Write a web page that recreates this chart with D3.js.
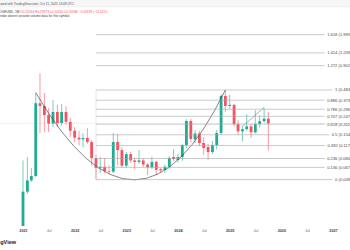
<!DOCTYPE html>
<html>
<head>
<meta charset="utf-8">
<script src="https://cdn.jsdelivr.net/npm/d3@7"></script>
<style>
  body { margin: 0; background: #fff; }
  svg { display: block; font-family: "Liberation Sans", Arial, sans-serif; }
</style>
</head>
<body>
<div id="chart"></div>
<script>
// monthly candles, DOGE-like log chart
const months = [
  "2021-01","2021-02","2021-03","2021-04","2021-05","2021-06","2021-07","2021-08","2021-09","2021-10","2021-11","2021-12",
  "2022-01","2022-02","2022-03","2022-04","2022-05","2022-06","2022-07","2022-08","2022-09","2022-10","2022-11","2022-12",
  "2023-01","2023-02","2023-03","2023-04","2023-05","2023-06","2023-07","2023-08","2023-09","2023-10","2023-11","2023-12",
  "2024-01","2024-02","2024-03","2024-04","2024-05","2024-06","2024-07","2024-08","2024-09","2024-10","2024-11","2024-12",
  "2025-01","2025-02","2025-03","2025-04","2025-05","2025-06","2025-07","2025-08","2025-09","2025-10"
];
const opens = [
  0.0047, 0.0360, 0.0480, 0.0537, 0.345, 0.322, 0.255, 0.205, 0.276, 0.208, 0.276, 0.214,
  0.171, 0.143, 0.137, 0.142, 0.128, 0.085, 0.066, 0.068, 0.061, 0.060, 0.128, 0.104,
  0.070, 0.094, 0.080, 0.077, 0.080, 0.072, 0.067, 0.077, 0.064, 0.0626, 0.068, 0.0873,
  0.0809, 0.0873, 0.1186, 0.2191, 0.1370, 0.1590, 0.1249, 0.1127, 0.0992, 0.1186, 0.1613, 0.4152,
  0.3216, 0.3310, 0.2030, 0.1680, 0.1780, 0.1910, 0.1640, 0.2030, 0.2180, 0.2326
];
const highs = [
  0.080, 0.087, 0.066, 0.448, 0.740, 0.448, 0.305, 0.375, 0.330, 0.338, 0.321, 0.237,
  0.188, 0.170, 0.161, 0.183, 0.135, 0.092, 0.087, 0.085, 0.071, 0.161, 0.158, 0.112,
  0.099, 0.100, 0.086, 0.104, 0.083, 0.075, 0.088, 0.080, 0.066, 0.072, 0.0895, 0.107,
  0.0942, 0.1217, 0.229, 0.2307, 0.1741, 0.1697, 0.1450, 0.1217, 0.1314, 0.1741, 0.4370, 0.4840,
  0.4300, 0.3360, 0.2240, 0.1930, 0.2600, 0.2030, 0.2880, 0.2540, 0.3070, 0.2767
];
const lows = [
  0.0045, 0.0340, 0.0460, 0.0524, 0.161, 0.165, 0.165, 0.188, 0.188, 0.192, 0.198, 0.146,
  0.128, 0.118, 0.112, 0.122, 0.070, 0.0495, 0.058, 0.058, 0.057, 0.058, 0.070, 0.066,
  0.066, 0.075, 0.064, 0.073, 0.068, 0.055, 0.064, 0.055, 0.058, 0.058, 0.064, 0.079,
  0.076, 0.079, 0.1099, 0.1281, 0.1249, 0.1156, 0.0919, 0.0809, 0.0942, 0.1060, 0.1532, 0.2758,
  0.2990, 0.1910, 0.1530, 0.1300, 0.1700, 0.1420, 0.1590, 0.1860, 0.2100, 0.1025
];
const closes = [
  0.0360, 0.0480, 0.0537, 0.345, 0.322, 0.255, 0.205, 0.276, 0.208, 0.276, 0.214, 0.171,
  0.143, 0.137, 0.142, 0.128, 0.085, 0.066, 0.068, 0.061, 0.060, 0.128, 0.104, 0.070,
  0.094, 0.080, 0.077, 0.080, 0.072, 0.067, 0.077, 0.063, 0.062, 0.068, 0.0851, 0.0829,
  0.0873, 0.1186, 0.2191, 0.1383, 0.1590, 0.1249, 0.1100, 0.0992, 0.1186, 0.1613, 0.4152, 0.3216,
  0.3310, 0.2030, 0.1680, 0.1780, 0.1910, 0.1640, 0.2030, 0.2180, 0.2326, 0.2058
];

const tickLabels = ["2021","Jul","2022","Jul","2023","Jul","2024","Jul","2025","Jul","2026","Jul","2027"];

const fibRatios = ["1.618","1.414","1.272","1","0.886","0.786","0.707","0.618","0.5","0.382","0.236","0.136","0"];
const fibPrices = [1.993, 1.249, 0.902, 0.484, 0.373, 0.296, 0.247, 0.202, 0.154, 0.117, 0.084, 0.067, 0.049];
const fibAnchorMonth = "2022-06";

// cup arc: start, bottom, end (month, price)
const cupPoints = [["2021-04", 0.452], ["2023-03", 0.0487], ["2024-12", 0.484]];
const trendPoints = [["2025-04", 0.190], ["2025-09", 0.310]];
const lastPrice = 0.2058;

const headerLine1 = "Created with TradingView.com, Oct 11, 2025 14:08 UTC";
const symbolText = "DOGEUSD, 1M";
const ohlcText = "O0.23264 H0.27673 L0.10250 C0.20586 \u22120.02678 (\u221211.51%)";
const volumeNote = "Vendor doesn't provide volume data for this symbol.";

const width = 350, height = 250;
const paneTop = 7, paneBottom = 226;
const upColor = "#22ab94", downColor = "#f7525f";

const parseMonth = d3.utcParse("%Y-%m");

const svg = d3.select("#chart").append("svg")
    .attr("width", width)
    .attr("height", height);

const x = d3.scaleUtc()
    .domain([new Date(Date.UTC(2021, 0, 1)), new Date(Date.UTC(2027, 0, 1))])
    .range([23, 333]);

const y = d3.scaleLog()
    .domain([0.01497, 2.751])
    .range([226, 22]);

// header bar
svg.append("rect").attr("x", 0).attr("y", 0).attr("width", width).attr("height", 7).attr("fill", "#f6f6f6");
svg.append("line").attr("x1", 0).attr("x2", width).attr("y1", 7).attr("y2", 7).attr("stroke", "#e8e8e8").attr("stroke-width", 0.5);
svg.append("text").attr("x", -5).attr("y", 5).style("font-size", "3.2px").style("fill", "#555").text(headerLine1);

const info = svg.append("text").attr("x", -3).attr("y", 12.8).style("font-size", "3.2px");
info.append("tspan").style("fill", "#333").text(symbolText + "  ");
info.append("tspan").style("fill", "#f7525f").text(ohlcText);
svg.append("text").attr("x", -3).attr("y", 16.8).style("font-size", "3.2px").style("fill", "#444").text(volumeNote);

svg.append("clipPath").attr("id", "pane")
  .append("rect").attr("x", 0).attr("y", paneTop).attr("width", width).attr("height", paneBottom - paneTop);

const pane = svg.append("g").attr("clip-path", "url(#pane)");

// last price line
pane.append("line")
    .attr("x1", 0).attr("x2", width)
    .attr("y1", y(lastPrice)).attr("y2", y(lastPrice))
    .attr("stroke", "#c8c8c8").attr("stroke-width", 0.5)
    .attr("stroke-dasharray", "1,1");

// fib retracement
const fibX = x(parseMonth(fibAnchorMonth));
const labelRight = 351.5;
const fibG = svg.append("g");
fibRatios.forEach((r, i) => {
    const yy = y(fibPrices[i]);
    const label = fibG.append("text")
        .attr("x", labelRight)
        .attr("y", yy + 1.4)
        .attr("text-anchor", "end")
        .style("font-size", "4.1px")
        .style("fill", "#4a4a4a")
        .text(r + " (" + fibPrices[i].toFixed(3) + ")");
    const w = label.node().getComputedTextLength();
    fibG.append("line")
        .attr("x1", fibX).attr("x2", labelRight - w - 2.5)
        .attr("y1", yy).attr("y2", yy)
        .attr("stroke", "#a6a6a6").attr("stroke-width", 0.6);
});
fibG.append("line")
    .attr("x1", fibX).attr("x2", fibX)
    .attr("y1", y(fibPrices[fibPrices.length - 1])).attr("y2", y(fibPrices[3]))
    .attr("stroke", "#b0b0b0").attr("stroke-width", 0.5)
    .attr("stroke-dasharray", "1.5,1");

// candles
const candles = months.map((m, i) => ({
    date: parseMonth(m), o: opens[i], h: highs[i], l: lows[i], c: closes[i]
}));
const bodyW = 2.8;

pane.selectAll(".wick")
    .data(candles)
    .enter()
    .append("line")
    .attr("class", "wick")
    .attr("x1", d => x(d.date)).attr("x2", d => x(d.date))
    .attr("y1", d => y(d.h)).attr("y2", d => y(d.l))
    .attr("stroke", d => d.c >= d.o ? upColor : downColor)
    .attr("stroke-width", 0.6);

pane.selectAll(".body")
    .data(candles)
    .enter()
    .append("rect")
    .attr("class", "body")
    .attr("x", d => x(d.date) - bodyW / 2)
    .attr("y", d => y(Math.max(d.o, d.c)))
    .attr("width", bodyW)
    .attr("height", d => Math.max(0.6, Math.abs(y(d.o) - y(d.c))))
    .attr("fill", d => d.c >= d.o ? upColor : downColor);

// cup arc (quadratic through the bottom point at t = 0.5)
const cp = cupPoints.map(p => [x(parseMonth(p[0])), y(p[1])]);
const ctrl = [2 * cp[1][0] - (cp[0][0] + cp[2][0]) / 2, 2 * cp[1][1] - (cp[0][1] + cp[2][1]) / 2];
const arcPath = d3.path();
arcPath.moveTo(cp[0][0], cp[0][1]);
arcPath.quadraticCurveTo(ctrl[0], ctrl[1], cp[2][0], cp[2][1]);
pane.append("path")
    .attr("d", arcPath.toString())
    .attr("fill", "none")
    .attr("stroke", "#333")
    .attr("stroke-width", 0.6);

// trend line
pane.append("path")
    .datum(trendPoints)
    .attr("d", d3.line().x(d => x(parseMonth(d[0]))).y(d => y(d[1])))
    .attr("fill", "none")
    .attr("stroke", "#666")
    .attr("stroke-width", 0.5);

// x axis
const tickDates = tickLabels.map((t, i) => d3.utcMonth.offset(new Date(Date.UTC(2021, 0, 1)), i * 6));
const xAxis = d3.axisBottom(x)
    .tickValues(tickDates)
    .tickFormat((d, i) => tickLabels[i])
    .tickSize(0)
    .tickPadding(0);

const gx = svg.append("g")
    .attr("transform", "translate(0," + 229.5 + ")")
    .call(xAxis);
gx.select(".domain").remove();
gx.selectAll("text")
    .style("font-family", "Liberation Sans, Arial, sans-serif")
    .style("font-size", "3.8px")
    .style("font-weight", (d, i) => tickLabels[i] === "Jul" ? "normal" : "bold")
    .style("fill", (d, i) => tickLabels[i] === "Jul" ? "#666" : "#444");

// logo
svg.append("text")
    .attr("x", 16)
    .attr("y", 244)
    .attr("text-anchor", "end")
    .style("font-size", "5.5px")
    .style("font-weight", "bold")
    .style("fill", "#222")
    .text("TradingView");
</script>
</body>
</html>
